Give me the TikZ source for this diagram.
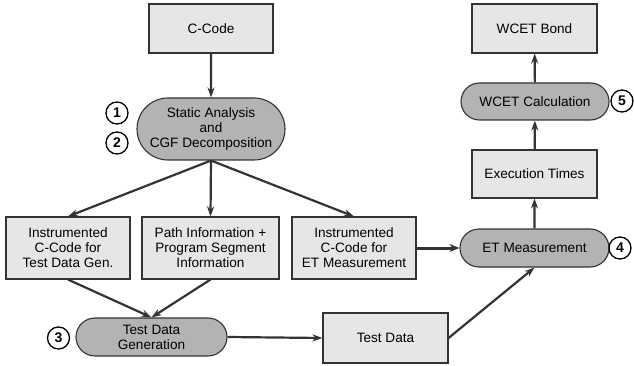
\documentclass[tikz,border=0pt]{standalone}
\usepackage{fontspec}
\setmainfont{Liberation Sans}
\usetikzlibrary{arrows.meta,shapes.misc}
\definecolor{boxfill}{HTML}{E6E6E6}
\definecolor{procfill}{HTML}{B3B3B3}
\definecolor{linec}{HTML}{333333}
\begin{document}
\begin{tikzpicture}[x=1pt,y=-1pt,
  every node/.style={font=\fontsize{13.6}{15}\selectfont, align=center, inner sep=0pt},
  databox/.style={draw=linec, line width=1.1pt, fill=boxfill, rectangle},
  procbox/.style={draw=linec, line width=1.1pt, fill=procfill, rounded rectangle},
  numcirc/.style={draw=black, line width=1.3pt, circle, minimum size=22pt, font=\fontsize{14}{14}\bfseries\selectfont},
  conn/.style={draw=linec, line width=2.2pt, -{Stealth[length=10pt,width=7pt]}},
  thickconn/.style={draw=linec, line width=3pt, -{Stealth[length=10pt,width=8pt]}}]
\useasboundingbox (0,0) rectangle (634,366);
% data boxes
\node[databox, minimum width=124pt, minimum height=49pt] (ccode) at (211,28.5) {C-Code};
\node[databox, minimum width=125pt, minimum height=49pt] (bond) at (534.5,28.5) {WCET Bond};
\node[databox, minimum width=125pt, minimum height=48pt] (exec) at (534.5,174) {Execution Times};
\node[databox, minimum width=124pt, minimum height=62pt] (instr) at (68,248) {Instrumented\\C-Code for\\Test Data Gen.};
\node[databox, minimum width=137pt, minimum height=62pt] (path) at (210.5,248) {Path Information +\\Program Segment\\Information};
\node[databox, minimum width=124pt, minimum height=62pt] (instret) at (354,248) {Instrumented\\C-Code for\\ET Measurement};
\node[databox, minimum width=125pt, minimum height=50pt] (tdata) at (385.5,338) {Test Data};
% process nodes
\node[procbox, minimum width=148pt, minimum height=62pt] (static) at (211,129) {Static Analysis\\and\\CGF Decomposition};
\node[procbox, minimum width=148pt, minimum height=37pt] (wcalc) at (535,101.5) {WCET Calculation};
\node[procbox, minimum width=149pt, minimum height=38pt] (etm) at (534.5,248) {ET Measurement};
\node[procbox, minimum width=151pt, minimum height=38pt] (tdg) at (151.5,337) {Test Data\\Generation};
% number circles
\node[numcirc] (n1) at (117,113) {1};
\node[numcirc] (n2) at (117,143) {2};
\node[numcirc] (n3) at (58.5,338) {3};
\node[numcirc] (n4) at (620,248) {4};
\node[numcirc] (n5) at (622,101) {5};
% connectors
\draw[conn] (ccode) -- (static);
\draw[conn] (static.south) -- (instr.north);
\draw[conn] (static.south) -- (path.north);
\draw[conn] (static.south) -- (instret.north);
\draw[conn] (instr.south) -- (tdg.north);
\draw[conn] (path.south) -- (tdg.north);
\draw[conn] (tdg.east) -- (tdata.west);
\draw[conn] (tdata.east) -- (etm.south);
\draw[thickconn] (instret.east) -- (etm.west);
\draw[conn] (etm) -- (exec);
\draw[conn] (exec) -- (wcalc);
\draw[conn] (wcalc) -- (bond);
\end{tikzpicture}
\end{document}
